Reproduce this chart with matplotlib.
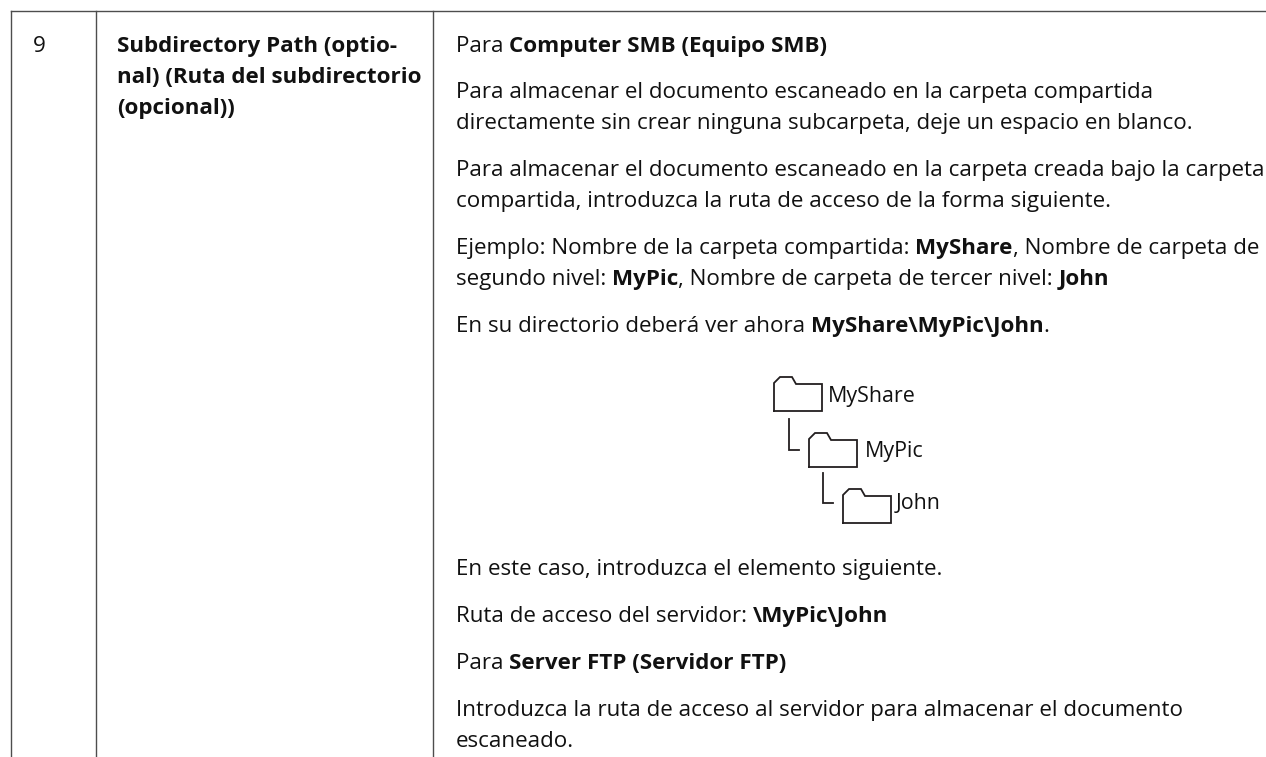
import matplotlib
matplotlib.use('Agg')
import matplotlib.pyplot as plt

W, H = 1266, 757

# Table text: each line is a list of (text, bold) runs
number_cell = '9'
left_lines = ['Subdirectory Path (optio-',
              'nal) (Ruta del subdirectorio',
              '(opcional))']
right_lines = [
    [('Para ', False), ('Computer SMB (Equipo SMB)', True)],
    [('Para almacenar el documento escaneado en la carpeta compartida', False)],
    [('directamente sin crear ninguna subcarpeta, deje un espacio en blanco.', False)],
    [('Para almacenar el documento escaneado en la carpeta creada bajo la carpeta', False)],
    [('compartida, introduzca la ruta de acceso de la forma siguiente.', False)],
    [('Ejemplo: Nombre de la carpeta compartida: ', False), ('MyShare', True), (', Nombre de carpeta de', False)],
    [('segundo nivel: ', False), ('MyPic', True), (', Nombre de carpeta de tercer nivel: ', False), ('John', True)],
    [('En su directorio deberá ver ahora ', False), ('MyShare\\MyPic\\John', True), ('.', False)],
    [('En este caso, introduzca el elemento siguiente.', False)],
    [('Ruta de acceso del servidor: ', False), ('\\MyPic\\John', True)],
    [('Para ', False), ('Server FTP (Servidor FTP)', True)],
    [('Introduzca la ruta de acceso al servidor para almacenar el documento', False)],
    [('escaneado.', False)],
]
folder_names = ['MyShare', 'MyPic', 'John']

# Layout in pixels
left_y = [52, 83, 114]
right_y = [52, 98, 129, 176, 207, 254, 285, 332, 575, 622, 669, 716, 747]
rule_x = [11, 96, 433]
rule_top = 11
folder_x = [774, 809, 843]
folder_y = [377, 433, 489]
label_x = [828, 865, 896]
label_y = [402, 457, 509]
link_x = [789, 823]
link_y = [(419, 450), (473, 503)]

FS = 16.1
INK = '#111111'
LINE = '#231f20'
RULE = '#4d4d4d'
plt.rcParams['font.family'] = ['Open Sans', 'DejaVu Sans']

fig = plt.figure(figsize=(W / 100, H / 100), dpi=100)
ax = fig.add_axes([0, 0, 1, 1])
ax.set_xlim(0, W)
ax.set_ylim(H, 0)
ax.axis('off')


def put_runs(x, y, runs):
    # place the runs one after another, measuring each in pixels
    rend = fig.canvas.get_renderer()
    for txt, bold in runs:
        t = ax.text(x, y, txt, fontsize=FS, color=INK, va='baseline', ha='left',
                    fontweight='bold' if bold else 'normal')
        x = t.get_window_extent(rend).x1


# table rules
ax.plot([rule_x[0], W], [rule_top, rule_top], color=RULE, lw=1)
for xv in rule_x:
    ax.plot([xv, xv], [rule_top, H], color=RULE, lw=1)

ax.text(39, 52, number_cell, fontsize=FS, color=INK, ha='center', va='baseline')

for txt, yv in zip(left_lines, left_y):
    put_runs(117, yv, [(txt, True)])

for runs, yv in zip(right_lines, right_y):
    put_runs(456, yv, runs)

# folder tree
for i, name in enumerate(folder_names):
    x0 = folder_x[i]
    y0 = folder_y[i]
    ax.plot([x0, x0, x0 + 6, x0 + 18, x0 + 22, x0 + 48, x0 + 48, x0],
            [y0 + 34, y0 + 6, y0, y0, y0 + 7, y0 + 7, y0 + 34, y0 + 34],
            color=LINE, lw=1.3, solid_joinstyle='miter')
    ax.text(label_x[i], label_y[i], name, fontsize=15.4, color=INK, va='baseline')

for xv, (y1, y2) in zip(link_x, link_y):
    ax.plot([xv, xv, xv + 10], [y1, y2, y2], color=LINE, lw=1.3, solid_joinstyle='miter')

fig.savefig('out.png', dpi=100)
